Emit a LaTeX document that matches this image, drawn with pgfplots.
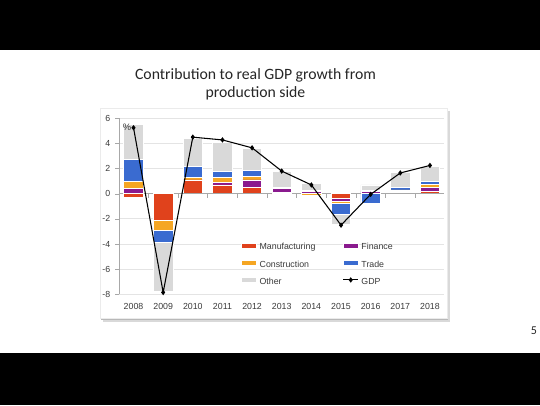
\documentclass[border=0pt]{standalone}
\usepackage{pgfplots}
\pgfplotsset{compat=1.18}
\usepackage{pgfplotstable}
\usepackage{fontspec}
\setmainfont{Liberation Sans}
\newfontfamily\calibri{Carlito}

\definecolor{cMfg}{HTML}{E0421C}
\definecolor{cFin}{HTML}{8A1A8E}
\definecolor{cCon}{HTML}{F5A623}
\definecolor{cTrade}{HTML}{3A6BD0}
\definecolor{cOther}{HTML}{D9D9D9}
\definecolor{cGrid}{HTML}{E4E4E4}
\definecolor{cAxis}{HTML}{A8A8A8}
\definecolor{cText}{HTML}{3A3A3A}

% positive contributions (stacked upwards)
\pgfplotstableread{
year mfg  fin  con  trade other
2008 0    0.45 0.50 1.75  2.80
2009 0    0    0    0     0
2010 1.05 0.05 0.20 0.85  2.25
2011 0.70 0.20 0.40 0.50  2.30
2012 0.50 0.60 0.25 0.50  1.75
2013 0.10 0.35 0    0.05  1.30
2014 0.05 0.15 0    0.05  0.55
2015 0    0    0    0     0
2016 0.05 0.15 0.05 0     0.45
2017 0.10 0.10 0.10 0.20  1.20
2018 0.20 0.30 0.25 0.25  1.15
}\pos

% negative contributions (stacked downwards)
\pgfplotstableread{
year mfg   fin   con   trade other
2008 -0.25 0     0     0     0
2009 -2.10 -0.05 -0.75 -0.95 -3.95
2010 0     0     0     0     0
2011 0     0     0     0     0
2012 0     0     0     0     0
2013 0     0     -0.08 0     0
2014 0     0     -0.15 0     0
2015 -0.40 -0.20 -0.15 -0.90 -0.75
2016 0     0     0     -0.80 0
2017 0     0     0     0     0
2018 0     0     0     0     0
}\neg

\pgfplotstableread{
year gdp
2008 5.25
2009 -7.85
2010 4.50
2011 4.28
2012 3.65
2013 1.80
2014 0.70
2015 -2.50
2016 -0.05
2017 1.65
2018 2.25
}\gdp

\pgfplotsset{
  common/.style={
    at={(89.25pt,83.03pt)}, anchor=south west,
    scale only axis, width=244.1pt, height=132pt,
    xmin=2007.51, xmax=2018.49, ymin=-8, ymax=6,
    clip=false,
  },
  barleg/.style={legend image code/.code={\fill[##1] (0pt,-0.2pt) rectangle (11.25pt,3.4pt);}},
  gdpleg/.style={legend image code/.code={\draw[mark repeat=2,mark phase=2,##1,sharp plot] plot coordinates {(0pt,1.6pt) (5.6pt,1.6pt) (11.25pt,1.6pt)};}},
}

\begin{document}
\begin{tikzpicture}[x=0.75pt,y=0.75pt]
\useasboundingbox (0,0) rectangle (540,405);
\fill[white] (0,0) rectangle (540,405);
\fill[black] (0,355) rectangle (540,405);
\fill[black] (0,0) rectangle (540,52);

% title
\node[align=center, font=\calibri\fontsize{11.8}{13.5}\selectfont, text=black!85] at (255.5,321) {Contribution to real GDP growth from\\production side};
% page number
\node[font=\calibri\fontsize{9}{10}\selectfont, text=black!85] at (534,74) {5};

% chart frame with shadow
\fill[black!15] (103,83) rectangle (450,294);
\fill[black!28] (101,85) rectangle (448,292);
\fill[white, draw=black!8] (100,87) rectangle (447,297);

% axis 1: grid, labels, positive bars, legend
\begin{axis}[common,
  ybar stacked, bar width=14.6pt,
  axis x line*=bottom, axis y line*=left,
  axis line style={-, draw=cAxis},
  x axis line style={draw=none},
  xtick={2008,2009,...,2018},
  xticklabels={2008,2009,2010,2011,2012,2013,2014,2015,2016,2017,2018},
  x tick style={draw=none},
  ytick={-8,-6,...,6},
  y tick style={draw=cAxis},
  tick align=outside, major tick length=3pt,
  ymajorgrids, grid style={cGrid, line width=0.6pt},
  /pgf/number format/assume math mode=true,
  tick label style={font=\fontsize{6.6}{7}\selectfont, text=cText},
  legend columns=2, legend cell align=left,
  legend style={draw=none, fill=none, at={(0.375,0.305)}, anchor=north west,
    inner sep=0pt, font=\fontsize{6.6}{7}\selectfont, text=cText, row sep=2.6pt,
    /tikz/every even column/.append style={column sep=18.5pt}},
]
\addplot[barleg, fill=cMfg, draw=white, line width=0.5pt] table[x=year,y=mfg]{\pos};
\addlegendentry{Manufacturing}
\addplot[barleg, fill=cFin, draw=white, line width=0.5pt] table[x=year,y=fin]{\pos};
\addlegendentry{Finance}
\addplot[barleg, fill=cCon, draw=white, line width=0.5pt] table[x=year,y=con]{\pos};
\addlegendentry{Construction}
\addplot[barleg, fill=cTrade, draw=white, line width=0.5pt] table[x=year,y=trade]{\pos};
\addlegendentry{Trade}
\addplot[barleg, fill=cOther, draw=white, line width=0.5pt] table[x=year,y=other]{\pos};
\addlegendentry{Other}
\addlegendimage{gdpleg, black, line width=0.8pt, mark=diamond*, mark size=1.4pt}
\addlegendentry{GDP}
\end{axis}

% axis 2: negative bars and zero line
\begin{axis}[common,
  ybar stacked, bar width=14.6pt,
  axis x line=middle, axis y line=none,
  axis line style={-, draw=cAxis},
  xtick={2008.5,2009.5,...,2017.5}, xticklabels={},
  x tick style={draw=cAxis}, xtick align=outside, major tick length=3pt,
  ytick=\empty,
]
\addplot[fill=cMfg, draw=white, line width=0.5pt] table[x=year,y=mfg]{\neg};
\addplot[fill=cFin, draw=white, line width=0.5pt] table[x=year,y=fin]{\neg};
\addplot[fill=cCon, draw=white, line width=0.5pt] table[x=year,y=con]{\neg};
\addplot[fill=cTrade, draw=white, line width=0.5pt] table[x=year,y=trade]{\neg};
\addplot[fill=cOther, draw=white, line width=0.5pt] table[x=year,y=other]{\neg};
\end{axis}

% axis 3: GDP line
\begin{axis}[common, hide axis]
\addplot[black, line width=0.8pt, mark=diamond*, mark size=1.4pt] table[x=year,y=gdp]{\gdp};
\node[font=\fontsize{7}{8}\selectfont, text=cText] at (axis cs:2007.78,5.3) {\%};
\end{axis}
\end{tikzpicture}
\end{document}
